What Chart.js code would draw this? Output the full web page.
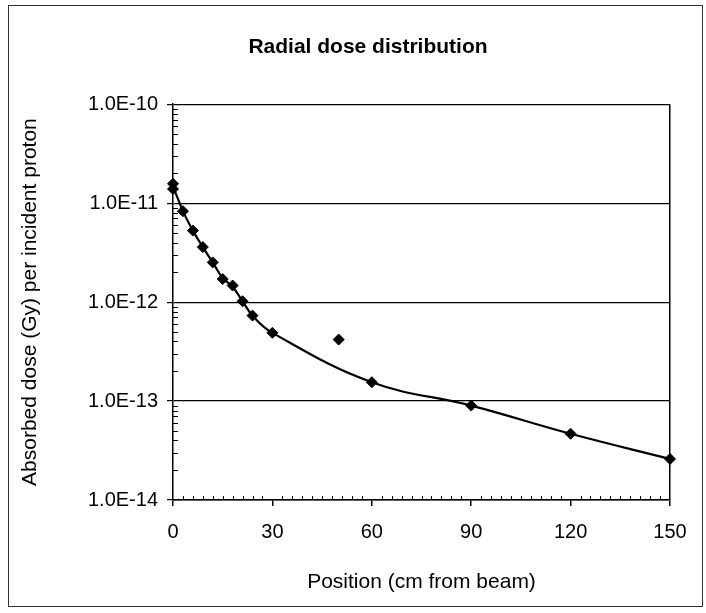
<!DOCTYPE html>
<html>
<head>
<meta charset="utf-8">
<script src="https://cdn.jsdelivr.net/npm/chart.js@4"></script>
<style>
  html, body { margin: 0; padding: 0; background: #fff; }
  #frame { position: absolute; left: 8px; top: 5px; width: 695px; height: 602px; border: 1px solid #333; box-sizing: border-box; background: #fff; }
  canvas { display: block; }
</style>
</head>
<body>
<div id="frame"><canvas id="c" width="693" height="600" style="width:693px;height:600px"></canvas></div>
<script>
// Measured points (position in cm, dose in Gy per incident proton)
const positions = [0, 0, 3, 6, 9, 12, 15, 18, 21, 24, 30, 50, 60, 90, 120, 150];
const doses = [1.57e-11, 1.39e-11, 8.3e-12, 5.28e-12, 3.6e-12, 2.52e-12, 1.71e-12, 1.47e-12, 1.02e-12, 7.3e-13, 4.89e-13, 4.18e-13, 1.55e-13, 9.0e-14, 4.67e-14, 2.6e-14];
// Smoothed curve
const curvePositions = [0, 3, 6, 9, 12, 15, 18, 21, 24, 30, 60, 90, 120, 150];
const curveDoses = [1.48e-11, 8.3e-12, 5.28e-12, 3.6e-12, 2.52e-12, 1.75e-12, 1.43e-12, 1.02e-12, 7.3e-13, 4.89e-13, 1.55e-13, 9.0e-14, 4.67e-14, 2.6e-14];
// Axis ticks
const yTickValues = [1e-14, 1e-13, 1e-12, 1e-11, 1e-10];
const xTickStep = 30;
const xMinorStep = 3;

const titleText = 'Radial dose distribution';
const xTitle = 'Position (cm from beam)';
const yTitle = 'Absorbed dose (Gy) per incident proton';

const FONT = "'Liberation Sans', Arial, Helvetica, sans-serif";

const minorTicks = {
  id: 'minorTicks',
  afterDatasetsDraw(chart) {
    const {ctx, chartArea, scales: {x, y}} = chart;
    ctx.save();
    ctx.strokeStyle = '#000';
    ctx.lineWidth = 1;
    ctx.beginPath();
    for (let i = 0; i < yTickValues.length - 1; i++) {
      for (let k = 2; k <= 9; k++) {
        const py = Math.round(y.getPixelForValue(k * yTickValues[i])) + 0.5;
        ctx.moveTo(chartArea.left, py);
        ctx.lineTo(chartArea.left + 5, py);
      }
    }
    for (let v = xMinorStep; v < x.max; v += xMinorStep) {
      if (v % xTickStep === 0) continue;
      const px = Math.round(x.getPixelForValue(v)) + 0.5;
      ctx.moveTo(px, chartArea.bottom);
      ctx.lineTo(px, chartArea.bottom - 4);
    }
    ctx.stroke();
    ctx.restore();
  }
};

new Chart(document.getElementById('c'), {
  type: 'scatter',
  data: {
    datasets: [
      {
        label: 'Measured',
        data: positions.map((p, i) => ({x: p, y: doses[i]})),
        showLine: false,
        pointStyle: 'rectRot',
        pointRadius: 5.5,
        pointHoverRadius: 5.5,
        backgroundColor: '#000',
        borderColor: '#000',
        borderWidth: 1,
        clip: false,
        order: 0
      },
      {
        label: 'Curve',
        data: curvePositions.map((p, i) => ({x: p, y: curveDoses[i]})),
        showLine: true,
        pointRadius: 0,
        borderColor: '#000',
        borderWidth: 2.2,
        tension: 0.4,
        fill: false,
        order: 1
      }
    ]
  },
  options: {
    responsive: false,
    animation: false,
    devicePixelRatio: 1,
    layout: { padding: { left: 57, right: 32, top: 0, bottom: 0 } },
    plugins: {
      legend: { display: false },
      tooltip: { enabled: false },
      title: {
        display: true,
        text: titleText,
        color: '#000',
        font: { family: FONT, size: 21, weight: 'bold' },
        padding: { top: 29, bottom: 44 }
      }
    },
    scales: {
      x: {
        type: 'linear',
        min: 0,
        max: 150,
        afterFit(scale) { scale.height = 106; },
        ticks: {
          stepSize: xTickStep,
          color: '#000',
          font: { family: FONT, size: 20 },
          padding: 14,
          maxRotation: 0
        },
        grid: {
          color: (c) => (c.tick && c.tick.value === 150 ? '#000' : 'rgba(0,0,0,0)'),
          tickColor: '#000',
          tickLength: 6,
          lineWidth: 1.5
        },
        border: { display: true, color: '#000', width: 1.5 },
        title: {
          display: true,
          text: xTitle,
          color: '#000',
          font: { family: FONT, size: 21 },
          padding: { top: 0, bottom: 11 }
        }
      },
      y: {
        type: 'logarithmic',
        min: 1e-14,
        max: 1e-10,
        afterFit(scale) { scale.width = 107; },
        afterBuildTicks(scale) {
          scale.ticks = yTickValues.map(v => ({value: v, major: true}));
        },
        ticks: {
          color: '#000',
          font: { family: FONT, size: 20 },
          padding: 9,
          callback: (v) => Number(v).toExponential(1).toUpperCase()
        },
        grid: {
          color: '#000',
          tickColor: '#000',
          tickLength: 6,
          lineWidth: 1.2
        },
        border: { display: true, color: '#000', width: 1.5 },
        title: {
          display: true,
          text: yTitle,
          color: '#000',
          font: { family: FONT, size: 21 },
          padding: { top: -48, bottom: 0 }
        }
      }
    }
  },
  plugins: [minorTicks]
});
</script>
</body>
</html>
